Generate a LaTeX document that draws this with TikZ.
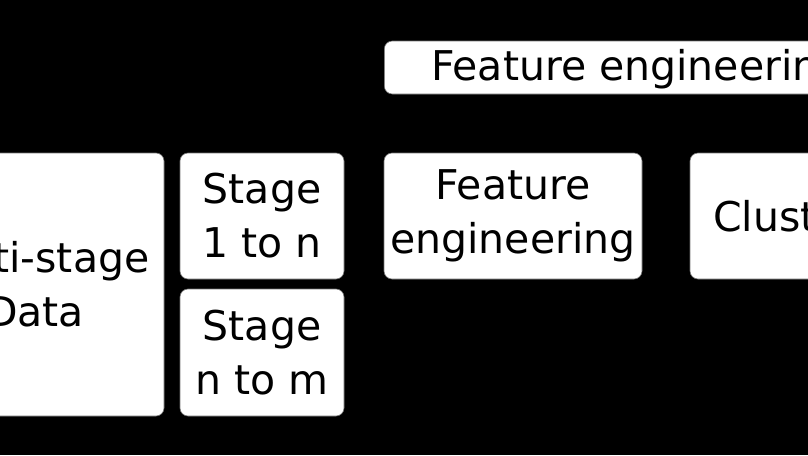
\documentclass[tikz,border=0pt]{standalone}
\usepackage{fontspec}
\setmainfont{DejaVu Sans}
\begin{document}
\begin{tikzpicture}[x=1pt,y=-1pt,
  card/.style={rectangle, rounded corners=8pt, fill=white, draw=black!55, line width=0.6pt,
    inner sep=0pt, align=center, font=\fontsize{41}{54}\selectfont, text=black}]
\fill[black] (0,0) rectangle (808,455);
\useasboundingbox (0,0) rectangle (808,455);
\node[card, minimum width=258pt, minimum height=263pt] (data) at (35,284.5) {Multi-stage\\Data};
\node[card, minimum width=164pt, minimum height=126pt] (s1) at (262,216) {Stage\\1 to n};
\node[card, minimum width=164pt, minimum height=127pt] (s2) at (262,352.5) {Stage\\n to m};
\node[card, minimum width=258pt, minimum height=126pt] (fe) at (513,216) {Feature\\engineering};
\node[card, minimum width=255pt, minimum height=126pt, text depth=0pt, text height=30pt] (cl) at (817.5,216) {Clustering};
\node[card, anchor=west, minimum height=53pt, inner xsep=47pt, text depth=0pt, text height=25pt, align=left] (top) at (384,67.5) {Feature engineering};
\end{tikzpicture}
\end{document}
